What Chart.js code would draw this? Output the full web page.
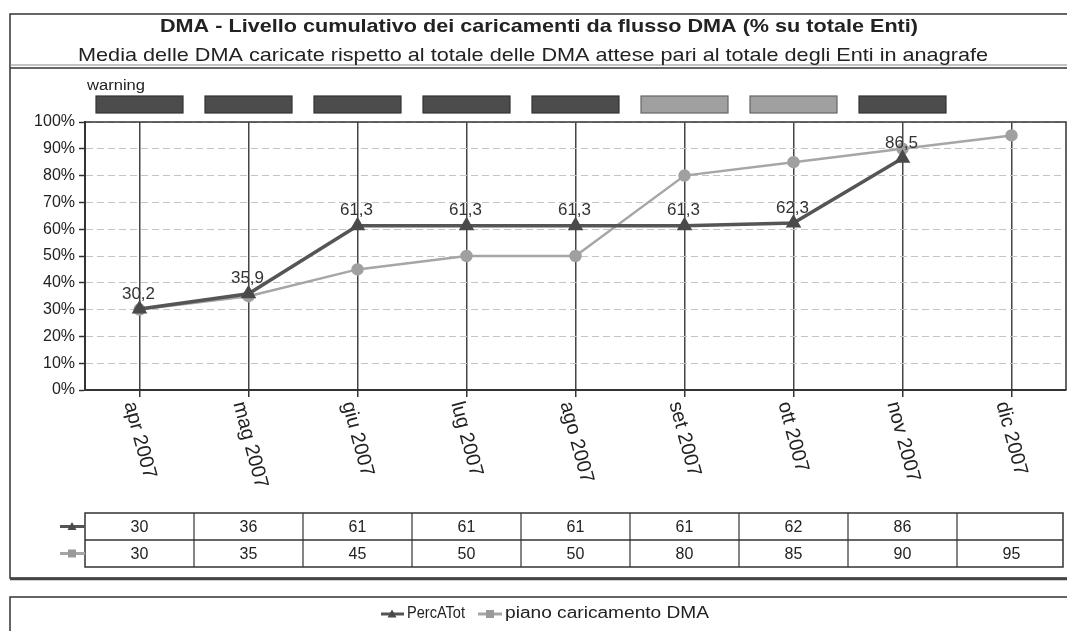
<!DOCTYPE html>
<html><head><meta charset="utf-8">
<script src="https://cdn.jsdelivr.net/npm/chart.js@4.4.0/dist/chart.umd.min.js"></script>
<style>html,body{margin:0;padding:0;background:#fff;overflow:hidden}#wrap{position:relative;width:1067px;height:631px}</style>
</head><body><div id="wrap"><canvas id="c" width="1067" height="631"></canvas></div>
<script>
const titleText = 'DMA - Livello cumulativo dei caricamenti da flusso DMA (% su totale Enti)';
const subtitleText = 'Media delle DMA caricate rispetto al totale delle DMA attese pari al totale degli Enti in anagrafe';
const categories = ['apr 2007','mag 2007','giu 2007','lug 2007','ago 2007','set 2007','ott 2007','nov 2007','dic 2007'];
const seriesNames = ['PercATot','piano caricamento DMA'];
const percATot = [30.2, 35.9, 61.3, 61.3, 61.3, 61.3, 62.3, 86.5, null];
const pianoCaricamento = [30, 35, 45, 50, 50, 80, 85, 90, 95];
const tablePercATot = ['30','36','61','61','61','61','62','86',''];
const tablePiano = ['30','35','45','50','50','80','85','90','95'];
const warningLevels = ['dark','dark','dark','dark','dark','light','light','dark'];
const warningLabel = 'warning';

const FONT = '"Liberation Sans", Arial, sans-serif';
const DARK = '#555555', LIGHT = '#a6a6a6', INK = '#222222';

function fitText(ctx, text, x, y, targetW, font, align) {
  ctx.save();
  ctx.font = font;
  const w = ctx.measureText(text).width;
  ctx.translate(x, y);
  ctx.scale(targetW / w, 1);
  ctx.textAlign = align || 'center';
  ctx.textBaseline = 'middle';
  ctx.fillStyle = INK;
  ctx.fillText(text, 0, 0);
  ctx.restore();
}
function marker(ctx, style, x, y, r, color) {
  ctx.save();
  ctx.fillStyle = color;
  ctx.beginPath();
  if (style === 'triangle') {
    ctx.moveTo(x, y - r); ctx.lineTo(x + r, y + r * 0.8); ctx.lineTo(x - r, y + r * 0.8); ctx.closePath();
  } else {
    ctx.rect(x - r, y - r, 2 * r, 2 * r);
  }
  ctx.fill();
  ctx.restore();
}
function line(ctx, x1, y1, x2, y2, color, w) {
  ctx.save(); ctx.strokeStyle = color; ctx.lineWidth = w;
  ctx.beginPath(); ctx.moveTo(x1, y1); ctx.lineTo(x2, y2); ctx.stroke(); ctx.restore();
}

const decor = {
  id: 'decor',
  beforeDraw(chart) {
    const ctx = chart.ctx;
    ctx.save();
    ctx.fillStyle = '#fff';
    ctx.fillRect(0, 0, chart.width, chart.height);
    ctx.strokeStyle = '#333'; ctx.lineWidth = 1.5;
    ctx.strokeRect(10, 14, 1070, 564);
    line(ctx, 10, 68, 1067, 68, '#333', 1.5);
    line(ctx, 10, 65, 1067, 65, '#888', 1);
    line(ctx, 10, 579, 1067, 579, '#444', 2.5);
    ctx.strokeStyle = '#333'; ctx.lineWidth = 1.5;
    ctx.strokeRect(10, 597, 1070, 60);
    ctx.restore();
  },
  afterDraw(chart) {
    const ctx = chart.ctx;
    const ca = chart.chartArea;
    const xs = chart.scales.x;
    const band = (ca.right - ca.left) / categories.length;
    fitText(ctx, titleText, 539, 27, 758, 'bold 19px ' + FONT);
    fitText(ctx, subtitleText, 533, 56, 910, '19px ' + FONT);
    fitText(ctx, warningLabel, 87, 86, 58, '14px ' + FONT, 'left');
    warningLevels.forEach((lv, i) => {
      const cx = xs.getPixelForValue(i);
      ctx.save();
      ctx.fillStyle = lv === 'dark' ? '#4c4c4c' : '#a0a0a0';
      ctx.strokeStyle = lv === 'dark' ? '#333' : '#666';
      ctx.lineWidth = 1.2;
      ctx.fillRect(cx - 43.5, 96, 87, 17);
      ctx.strokeRect(cx - 43.5, 96, 87, 17);
      ctx.restore();
    });
    ctx.save();
    ctx.strokeStyle = '#333'; ctx.lineWidth = 1.5;
    ctx.beginPath();
    ctx.moveTo(ca.left, ca.top); ctx.lineTo(ca.right, ca.top); ctx.lineTo(ca.right, ca.bottom);
    ctx.stroke();
    ctx.restore();
    const meta = chart.getDatasetMeta(0);
    ctx.save();
    ctx.font = '17px ' + FONT;
    ctx.fillStyle = '#333';
    ctx.textAlign = 'center'; ctx.textBaseline = 'middle';
    meta.data.forEach((pt, i) => {
      const v = percATot[i];
      if (v === null) return;
      ctx.fillText(v.toFixed(1).replace('.', ','), pt.x - 1, pt.y - 15);
    });
    ctx.restore();
    ctx.save();
    ctx.font = '20px ' + FONT;
    ctx.fillStyle = INK;
    ctx.textAlign = 'left'; ctx.textBaseline = 'middle';
    categories.forEach((c, i) => {
      const cx = xs.getPixelForValue(i);
      ctx.save();
      ctx.translate(cx - 10, 402);
      ctx.rotate(75 * Math.PI / 180);
      ctx.fillText(c, 0, 0);
      ctx.restore();
    });
    ctx.restore();
    const tTop = 513, rh = 27;
    ctx.save();
    ctx.strokeStyle = '#333'; ctx.lineWidth = 1.5;
    ctx.strokeRect(ca.left, tTop, ca.right - ca.left - 3, rh * 2);
    line(ctx, ca.left, tTop + rh, ca.right - 3, tTop + rh, '#333', 1.5);
    for (let i = 1; i < categories.length; i++) {
      const x = ca.left + band * i;
      line(ctx, x, tTop, x, tTop + rh * 2, '#333', 1.2);
    }
    ctx.font = '16px ' + FONT;
    ctx.fillStyle = INK;
    ctx.textAlign = 'center'; ctx.textBaseline = 'middle';
    categories.forEach((c, i) => {
      const cx = xs.getPixelForValue(i);
      ctx.fillText(tablePercATot[i], cx, tTop + rh / 2 + 1);
      ctx.fillText(tablePiano[i], cx, tTop + rh * 1.5 + 1);
    });
    ctx.restore();
    line(ctx, 60, tTop + rh / 2, ca.left, tTop + rh / 2, DARK, 3);
    marker(ctx, 'triangle', 72, tTop + rh / 2, 4.5, '#4a4a4a');
    line(ctx, 60, tTop + rh * 1.5, ca.left, tTop + rh * 1.5, LIGHT, 3);
    marker(ctx, 'rect', 72, tTop + rh * 1.5, 4, '#9a9a9a');
    const ly = 614;
    line(ctx, 381, ly, 404, ly, DARK, 3);
    marker(ctx, 'triangle', 392, ly, 4.5, '#4a4a4a');
    fitText(ctx, seriesNames[0], 407, ly, 58, '16px ' + FONT, 'left');
    line(ctx, 478, ly, 502, ly, LIGHT, 3);
    marker(ctx, 'rect', 490, ly, 4, '#9a9a9a');
    fitText(ctx, seriesNames[1], 505, ly, 204, '16px ' + FONT, 'left');
  }
};

new Chart(document.getElementById('c'), {
  type: 'line',
  data: {
    labels: categories,
    datasets: [
      { label: seriesNames[0], data: percATot, borderColor: DARK, borderWidth: 3.5,
        pointStyle: 'triangle', pointRadius: 5.5, pointBackgroundColor: '#4a4a4a', pointBorderColor: '#4a4a4a',
        tension: 0, spanGaps: false },
      { label: seriesNames[1], data: pianoCaricamento, borderColor: LIGHT, borderWidth: 2.5,
        pointStyle: 'circle', pointRadius: 5, pointBackgroundColor: '#a0a0a0', pointBorderColor: '#a0a0a0',
        tension: 0 }
    ]
  },
  options: {
    responsive: false, animation: false, devicePixelRatio: 1,
    layout: { autoPadding: false, padding: { left: 10, top: 122, right: 1, bottom: 231 } },
    plugins: { legend: { display: false }, title: { display: false }, tooltip: { enabled: false } },
    scales: {
      x: {
        type: 'category', offset: true,
        grid: { offset: false, color: '#454545', lineWidth: 1.5, drawTicks: true, tickLength: 7, tickColor: '#333', tickWidth: 1.5 },
        border: { display: true, color: '#333', width: 2 },
        ticks: { display: false },
        afterFit(s) { s.height = 10; }
      },
      y: {
        min: 0, max: 100,
        ticks: { stepSize: 10, callback: v => v + '%', font: { family: FONT, size: 16 }, color: INK, padding: 4 },
        grid: { color: '#c4c4c4', lineWidth: 1, drawTicks: true, tickLength: 6, tickColor: '#333', tickWidth: 1.5 },
        border: { display: true, color: '#333', width: 2, dash: [7, 4] },
        afterFit(s) { s.width = 75; }
      }
    }
  },
  plugins: [decor]
});
</script>
</body></html>
